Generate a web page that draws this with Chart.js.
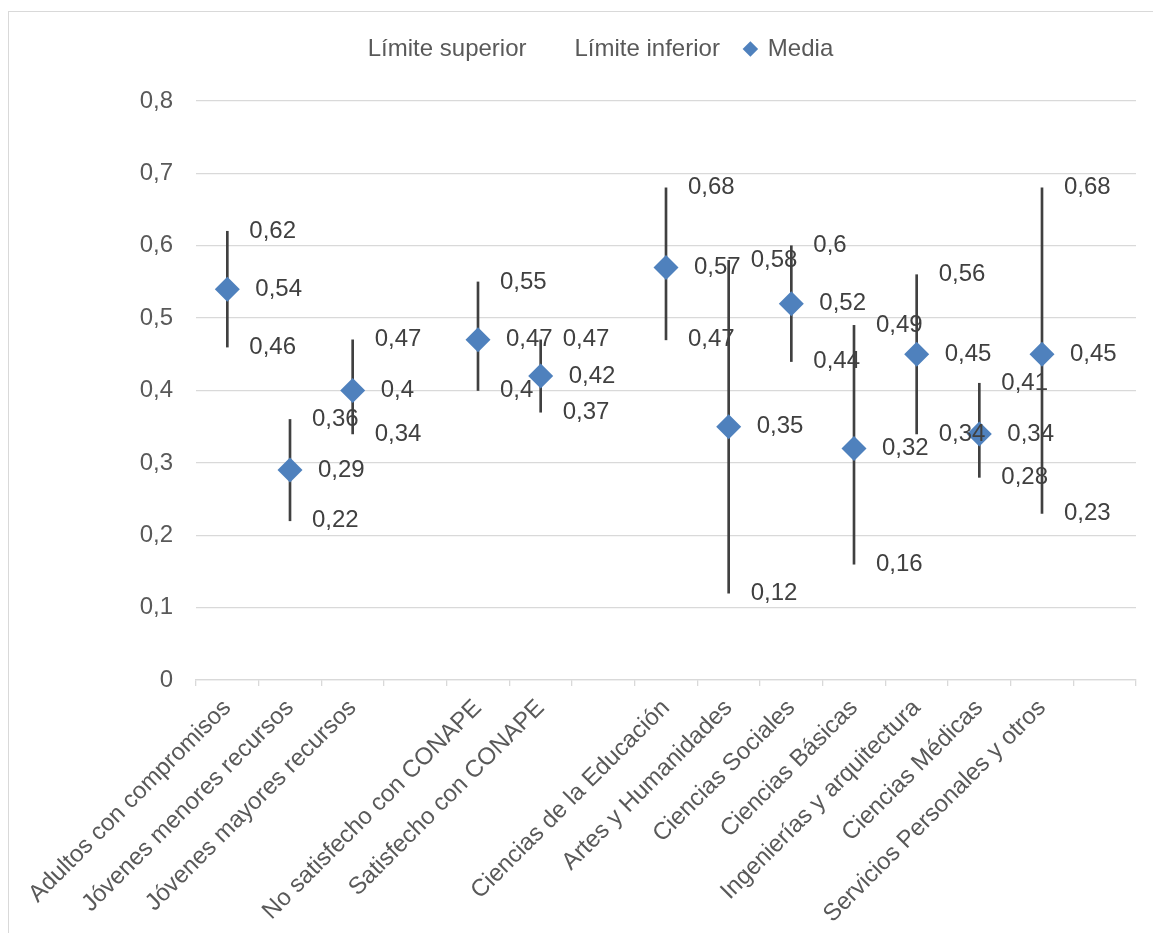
<!DOCTYPE html>
<html>
<head>
<meta charset="utf-8">
<title>Media y límites</title>
<script src="https://cdn.jsdelivr.net/npm/chart.js@4.4.1/dist/chart.umd.min.js"></script>
<style>
    body { margin: 0; background: #ffffff; }
    #frame { position: absolute; left: 8px; top: 11px; width: 1300px; height: 1100px;
             border-left: 1px solid #d9d9d9; border-top: 1px solid #d9d9d9; }
    #wrap { position: absolute; left: 0; top: 0; width: 1153px; height: 933px; }
</style>
</head>
<body>
<div id="frame"></div>
<div id="wrap"><canvas id="chart-media" width="1153" height="933"></canvas></div>
<script>
// Datos
const categorias = ['Adultos con compromisos', 'Jóvenes menores recursos', 'Jóvenes mayores recursos', '',
    'No satisfecho con CONAPE', 'Satisfecho con CONAPE', '',
    'Ciencias de la Educación', 'Artes y Humanidades', 'Ciencias Sociales', 'Ciencias Básicas',
    'Ingenierías y arquitectura', 'Ciencias Médicas', 'Servicios Personales y otros', ''];
const limiteSuperior = [0.62, 0.36, 0.47, null, 0.55, 0.47, null, 0.68, 0.58, 0.6, 0.49, 0.56, 0.41, 0.68, null];
const limiteInferior = [0.46, 0.22, 0.34, null, 0.4, 0.37, null, 0.47, 0.12, 0.44, 0.16, 0.34, 0.28, 0.23, null];
const media = [0.54, 0.29, 0.4, null, 0.47, 0.42, null, 0.57, 0.35, 0.52, 0.32, 0.45, 0.34, 0.45, null];

const fuente = '"Liberation Sans", Arial, sans-serif';
const tam = 24;
const coma = v => String(v).replace('.', ',');

// rango vertical de cada categoria (inferior -> superior)
const rangos = limiteInferior.map((lo, i) => lo === null ? null : [lo, limiteSuperior[i]]);

// etiquetas de valor a la derecha de cada punto
const valueLabels = {
    id: 'valueLabels',
    afterDatasetsDraw(chart) {
        const ctx = chart.ctx;
        ctx.save();
        ctx.font = tam + 'px ' + fuente;
        ctx.fillStyle = '#404040';
        ctx.textAlign = 'left';
        ctx.textBaseline = 'middle';
        chart.data.datasets.forEach((ds, i) => {
            if (!ds.labelGap) return;
            chart.getDatasetMeta(i).data.forEach((pt, j) => {
                if (ds.data[j] === null) return;
                ctx.fillText(coma(ds.data[j]), pt.x + ds.labelGap, pt.y);
            });
        });
        ctx.restore();
    }
};

// un poco mas de aire bajo la leyenda
const legendGap = {
    id: 'legendGap',
    beforeInit(chart) {
        const fit = chart.legend.fit;
        chart.legend.fit = function () {
            fit.bind(chart.legend)();
            this.height += 30;
        };
    }
};

let ctm = document.getElementById('chart-media').getContext('2d');
let chart_media = new Chart(ctm, {
    type: 'line',
    data: {
        labels: categorias,
        datasets: [{
            label: 'Límite superior',
            data: limiteSuperior,
            showLine: false,
            pointRadius: 0,
            pointHoverRadius: 0,
            labelGap: 22,
            order: 0
        }, {
            label: 'Límite inferior',
            data: limiteInferior,
            showLine: false,
            pointRadius: 0,
            pointHoverRadius: 0,
            labelGap: 22,
            order: 0
        }, {
            label: 'Media',
            data: media,
            showLine: false,
            pointStyle: 'rectRot',
            pointRadius: 12.5,
            pointHoverRadius: 12.5,
            pointBackgroundColor: '#4f81bd',
            pointBorderColor: '#4f81bd',
            pointBorderWidth: 0,
            backgroundColor: '#4f81bd',
            borderColor: '#4f81bd',
            labelGap: 28,
            order: 1
        }, {
            type: 'bar',
            label: 'rango',
            data: rangos,
            backgroundColor: '#404040',
            barThickness: 2,
            order: 2
        }]
    },
    options: {
        responsive: false,
        animation: false,
        layout: {
            padding: { top: 12, left: 42, right: 17, bottom: 0 }
        },
        scales: {
            y: {
                min: 0,
                max: 0.8,
                border: { display: false },
                grid: { color: '#d9d9d9', lineWidth: 1.3, drawTicks: false },
                ticks: {
                    stepSize: 0.1,
                    padding: 23,
                    color: '#595959',
                    font: { family: fuente, size: tam },
                    callback: function (value) {
                        return value === 0 ? '0' : value.toFixed(1).replace('.', ',');
                    }
                },
                afterFit: function (scale) { scale.width = 154; }
            },
            x: {
                offset: true,
                border: { color: '#d9d9d9', width: 1.3 },
                grid: { offset: true, drawOnChartArea: false, drawTicks: true, tickLength: 6, color: '#d9d9d9', lineWidth: 1.3 },
                ticks: {
                    autoSkip: false,
                    maxRotation: 45,
                    minRotation: 45,
                    padding: 8,
                    color: '#595959',
                    font: { family: fuente, size: tam }
                },
                afterFit: function (scale) {
                    scale.height = 253;
                    scale.paddingLeft = 0;
                    scale.paddingRight = 0;
                }
            }
        },
        plugins: {
            tooltip: { enabled: false },
            legend: {
                position: 'top',
                labels: {
                    usePointStyle: true,
                    boxWidth: 11,
                    boxHeight: 11,
                    padding: 25,
                    color: '#595959',
                    font: { family: fuente, size: tam },
                    filter: item => item.text !== 'rango',
                    generateLabels: function (chart) {
                        const items = Chart.defaults.plugins.legend.labels.generateLabels(chart);
                        items.forEach(it => {
                            if (it.text !== 'Media') {
                                it.fillStyle = 'rgba(0,0,0,0)';
                                it.strokeStyle = 'rgba(0,0,0,0)';
                                it.lineWidth = 0;
                            } else {
                                it.pointStyle = 'rectRot';
                                it.lineWidth = 0;
                            }
                        });
                        return items;
                    }
                }
            }
        }
    },
    plugins: [valueLabels, legendGap]
});
</script>
</body>
</html>
